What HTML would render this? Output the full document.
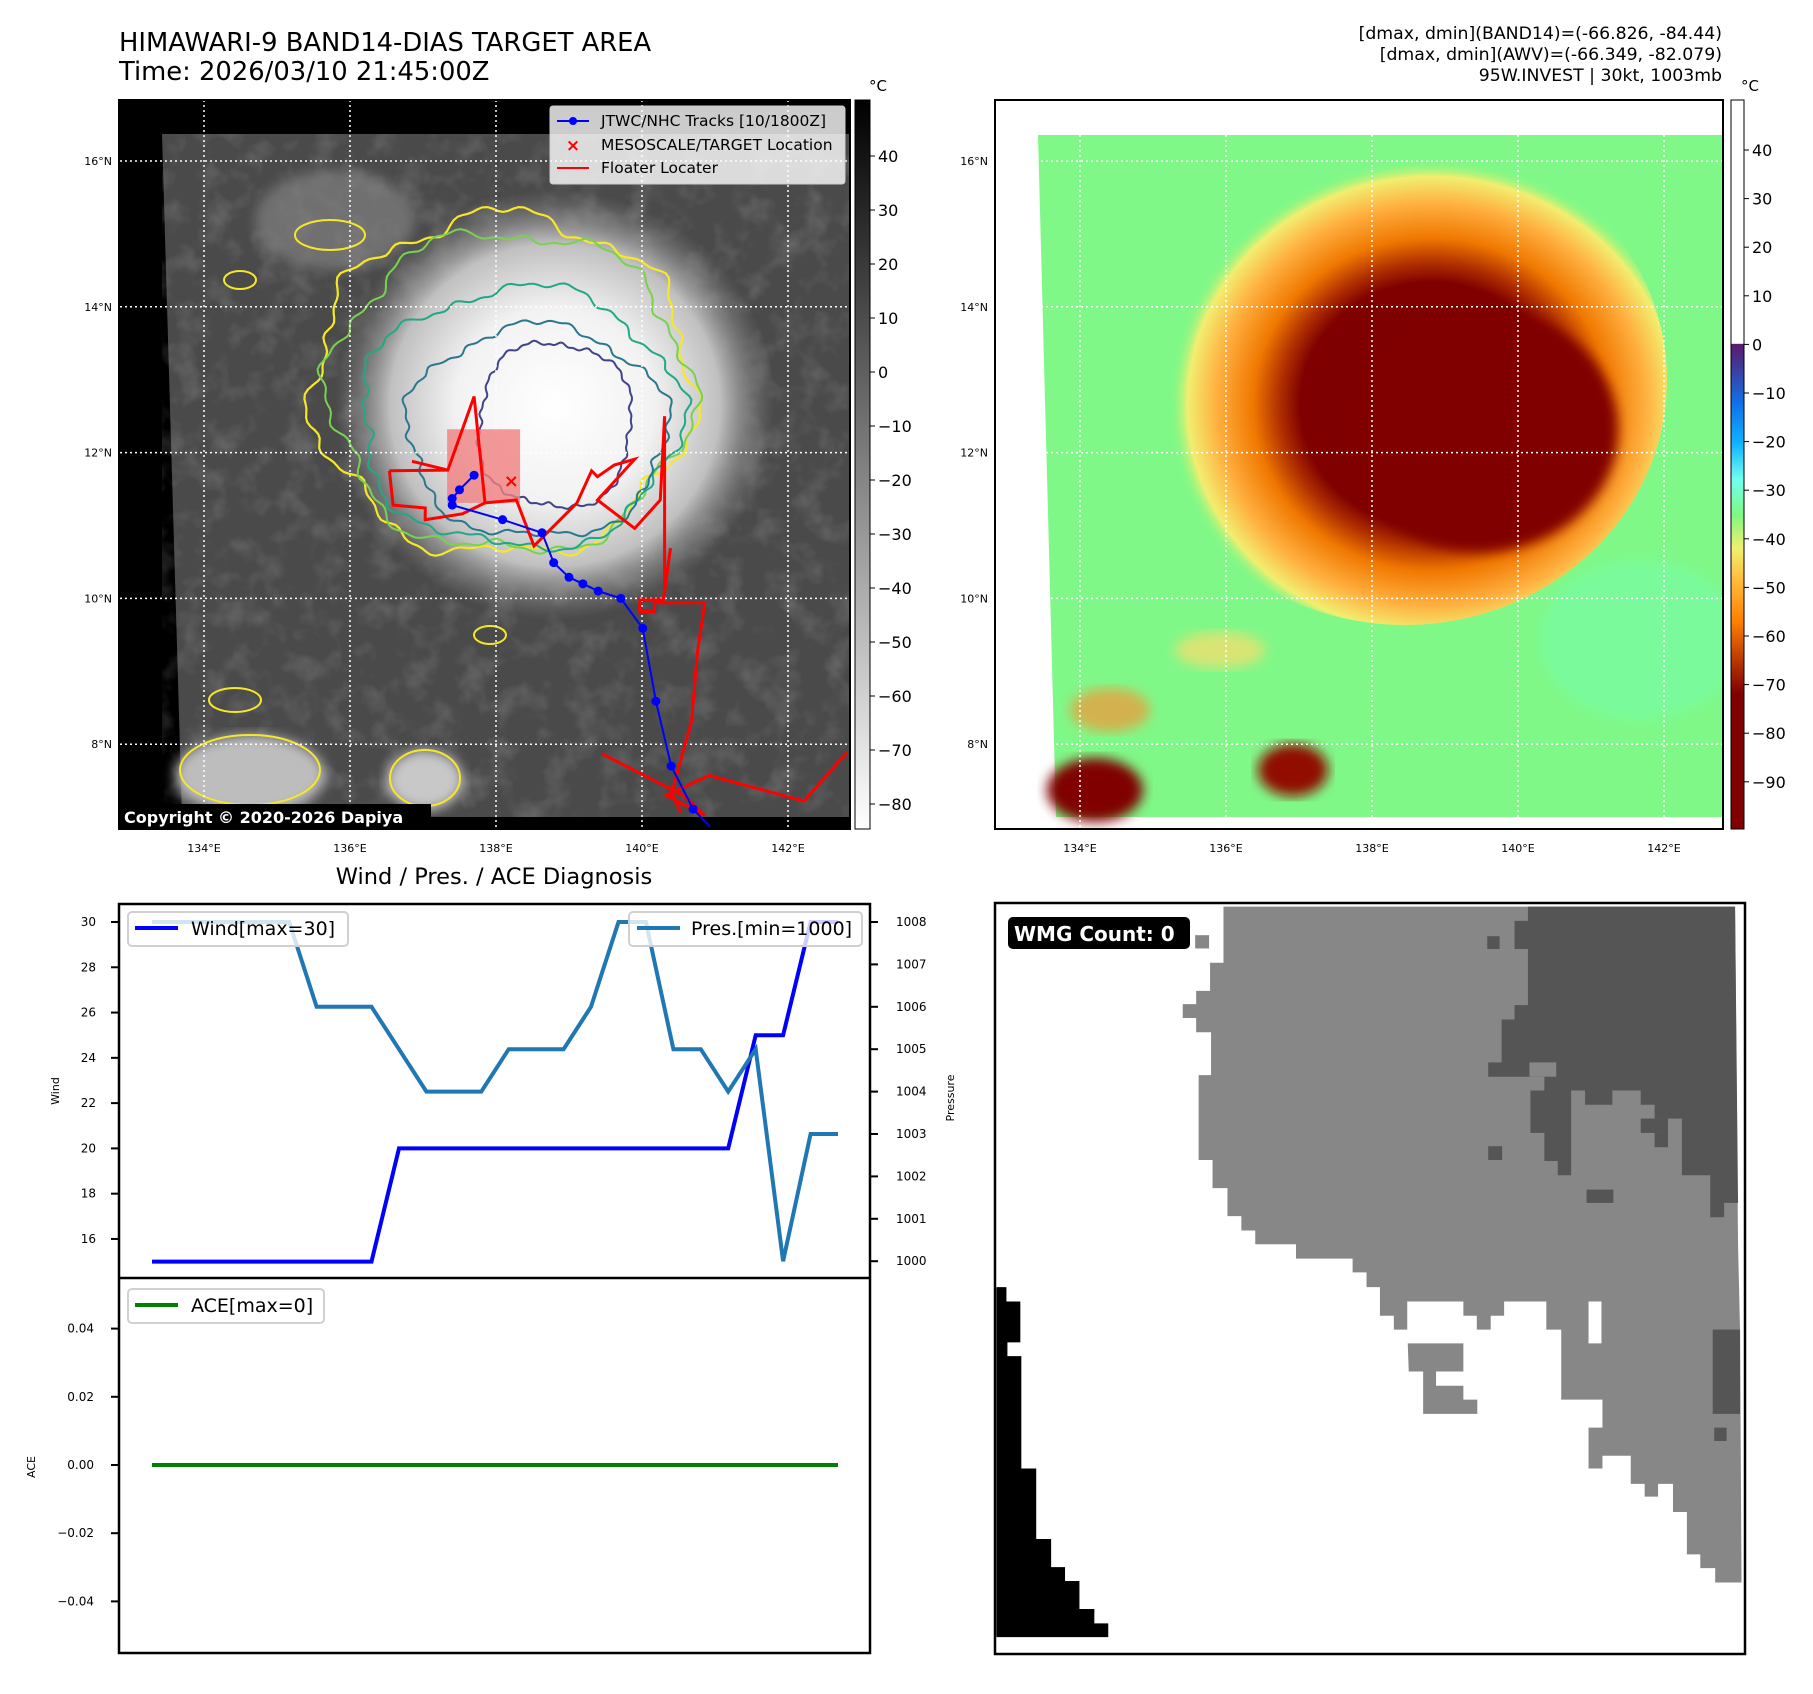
<!DOCTYPE html>
<html><head><meta charset="utf-8">
<style>
html,body{margin:0;padding:0;background:#fff;}
body{width:1813px;height:1690px;overflow:hidden;font-family:"DejaVu Sans","Liberation Sans",sans-serif;}
svg text{font-family:"DejaVu Sans","Liberation Sans",sans-serif;}
</style></head>
<body>
<svg id="fig" width="1813" height="1690" viewBox="0 0 1813 1690" xmlns="http://www.w3.org/2000/svg">
<defs>
  <radialGradient id="cloudG" cx="0.5" cy="0.5" r="0.5">
    <stop offset="0" stop-color="#ffffff"/>
    <stop offset="0.45" stop-color="#f2f2f2"/>
    <stop offset="0.75" stop-color="#c0c0c0"/>
    <stop offset="1" stop-color="#8a8a8a" stop-opacity="0"/>
  </radialGradient>
  <radialGradient id="awvG" cx="0.55" cy="0.55" r="0.5">
    <stop offset="0" stop-color="#7a0000"/>
    <stop offset="0.5" stop-color="#800000"/>
    <stop offset="0.58" stop-color="#b03000"/>
    <stop offset="0.68" stop-color="#f07800"/>
    <stop offset="0.82" stop-color="#ffb040"/>
    <stop offset="0.93" stop-color="#f2ee70"/>
    <stop offset="1" stop-color="#80f880" stop-opacity="0"/>
  </radialGradient>
  <linearGradient id="grayBar" x1="0" y1="0" x2="0" y2="1">
    <stop offset="0" stop-color="#000"/><stop offset="1" stop-color="#fff"/>
  </linearGradient>
  <linearGradient id="awvBar" x1="0" y1="0" x2="0" y2="1">
    <stop offset="0" stop-color="#fff"/>
    <stop offset="0.334" stop-color="#fff"/>
    <stop offset="0.335" stop-color="#5a1a6e"/>
    <stop offset="0.37" stop-color="#3b3fa0"/>
    <stop offset="0.415" stop-color="#1070e8"/>
    <stop offset="0.47" stop-color="#10b0ff"/>
    <stop offset="0.52" stop-color="#70fff0"/>
    <stop offset="0.57" stop-color="#80f880"/>
    <stop offset="0.615" stop-color="#f0f070"/>
    <stop offset="0.655" stop-color="#ffc040"/>
    <stop offset="0.715" stop-color="#ff8000"/>
    <stop offset="0.775" stop-color="#b03000"/>
    <stop offset="0.815" stop-color="#800000"/>
    <stop offset="1" stop-color="#800000"/>
  </linearGradient>
  <filter id="tex" x="0" y="0" width="1" height="1">
    <feTurbulence type="fractalNoise" baseFrequency="0.035" numOctaves="3" seed="4"/>
    <feColorMatrix type="matrix" values="0 0 0 0 0.5  0 0 0 0 0.5  0 0 0 0 0.5  0 0 0 1.1 -0.5"/>
  </filter>
  <filter id="blur6"><feGaussianBlur stdDeviation="6"/></filter>
  <clipPath id="clipL"><rect x="119" y="100" width="731" height="729"/></clipPath>
  <clipPath id="clipR"><rect x="995" y="100" width="728" height="729"/></clipPath>
  <clipPath id="clipW"><rect x="119" y="904" width="751" height="374"/></clipPath>
</defs>

<!-- titles -->
<text x="119" y="51" font-size="25.8">HIMAWARI-9 BAND14-DIAS TARGET AREA</text>
<text x="119" y="80" font-size="25.8">Time: 2026/03/10 21:45:00Z</text>
<text x="1722" y="39" font-size="17.3" text-anchor="end">[dmax, dmin](BAND14)=(-66.826, -84.44)</text>
<text x="1722" y="60" font-size="17.3" text-anchor="end">[dmax, dmin](AWV)=(-66.349, -82.079)</text>
<text x="1722" y="81" font-size="17.3" text-anchor="end">95W.INVEST | 30kt, 1003mb</text>

<!-- left map -->
<g id="mapL">
  <rect x="119" y="100" width="731" height="729" fill="#000"/>
  <g clip-path="url(#clipL)">
    <polygon points="162,134 850,134 850,817 182,817" fill="#4a4a4a"/>
    <rect x="162" y="134" width="688" height="683" filter="url(#tex)" opacity="0.5" clip-path="url(#clipL)"/>
    <ellipse cx="555" cy="405" rx="220" ry="215" fill="url(#cloudG)"/>
    <ellipse cx="250" cy="775" rx="75" ry="40" fill="#bdbdbd" filter="url(#blur6)"/>
    <ellipse cx="425" cy="780" rx="38" ry="30" fill="#c8c8c8" filter="url(#blur6)"/>
    <ellipse cx="335" cy="220" rx="80" ry="50" fill="#8a8a8a" filter="url(#blur6)" opacity="0.6"/>
    <g id="contours"></g>
    <g id="gridL"></g>
    <rect id="pinkRect" fill="#f08080" opacity="0.8"/>
    <g id="floaterL"></g>
    <g id="trackL"></g>
  </g>
  <rect x="119" y="100" width="731" height="729" fill="none" stroke="#000" stroke-width="2"/>
  <g>
    <rect x="550" y="106" width="295" height="78" rx="3" fill="#fff" fill-opacity="0.8" stroke="#ccc"/>
    <line x1="557" y1="121" x2="589" y2="121" stroke="#0000ff" stroke-width="2"/><circle cx="573" cy="121" r="4" fill="#0000ff"/>
    <text x="601" y="126" font-size="15.5">JTWC/NHC Tracks [10/1800Z]</text>
    <text x="573" y="151" font-size="17" fill="#f00" text-anchor="middle" font-weight="bold">×</text>
    <text x="601" y="150" font-size="15.5">MESOSCALE/TARGET Location</text>
    <line x1="557" y1="168" x2="589" y2="168" stroke="#f00" stroke-width="2"/>
    <text x="601" y="173" font-size="15.5">Floater Locater</text>
  </g>
  <rect x="119" y="804" width="312" height="25" fill="#000"/>
  <text x="124" y="823" font-size="16" font-weight="bold" fill="#fff">Copyright © 2020-2026 Dapiya</text>
  <g id="ticksL"></g>
</g>
<!-- left colorbar -->
<g>
  <rect x="855" y="100" width="15" height="729" fill="url(#grayBar)" stroke="#000" stroke-width="1"/>
  <text x="869" y="91" font-size="15">°C</text>
  <g id="cbL"></g>
</g>

<!-- right map -->
<g id="mapR">
  <rect x="995" y="100" width="728" height="729" fill="#fff"/>
  <g clip-path="url(#clipR)">
    <polygon points="1038,135 1723,135 1723,817 1056,817" fill="#80f888"/>
    <ellipse cx="1640" cy="640" rx="100" ry="80" fill="#70ffc0" opacity="0.35" filter="url(#blur6)"/>
    <ellipse cx="1405" cy="380" rx="262" ry="245" fill="url(#awvG)"/>
    <ellipse cx="1480" cy="430" rx="138" ry="122" fill="#800000" filter="url(#blur6)"/>
    <ellipse cx="1095" cy="790" rx="48" ry="32" fill="#800000" filter="url(#blur6)"/>
    <ellipse cx="1293" cy="770" rx="35" ry="26" fill="#900a00" filter="url(#blur6)"/>
    <ellipse cx="1110" cy="710" rx="40" ry="22" fill="#e8a040" filter="url(#blur6)" opacity="0.8"/>
    <ellipse cx="1220" cy="650" rx="45" ry="18" fill="#f0e070" filter="url(#blur6)" opacity="0.8"/>
    <g id="gridR"></g>
  </g>
  <rect x="995" y="100" width="728" height="729" fill="none" stroke="#000" stroke-width="2"/>
  <g id="ticksR"></g>
</g>
<g>
  <rect x="1731" y="100" width="13" height="729" fill="url(#awvBar)" stroke="#000" stroke-width="1"/>
  <text x="1741" y="91" font-size="15">°C</text>
  <g id="cbR"></g>
</g>

<!-- diagnosis chart -->
<text x="494" y="884" font-size="22.5" text-anchor="middle">Wind / Pres. / ACE Diagnosis</text>
<g id="diag">
  <rect x="119" y="904" width="751" height="749" fill="#fff"/>
  <g id="windAxes"></g>
  <g id="aceAxes"></g>
  <rect x="119" y="904" width="751" height="749" fill="none" stroke="#000" stroke-width="2.5"/>
  <line x1="119" y1="1278" x2="870" y2="1278" stroke="#000" stroke-width="2.5"/>
  <text transform="translate(59,1091) rotate(-90)" font-size="11" text-anchor="middle">Wind</text>
  <text transform="translate(954,1098) rotate(-90)" font-size="11" text-anchor="middle">Pressure</text>
  <text transform="translate(35,1467) rotate(-90)" font-size="11" text-anchor="middle">ACE</text>
  <g>
    <rect x="128" y="912" width="220" height="34" rx="4" fill="#fff" fill-opacity="0.8" stroke="#d0d0d0" stroke-width="2"/>
    <line x1="135" y1="928" x2="178" y2="928" stroke="#0000ff" stroke-width="4"/>
    <text x="191" y="935" font-size="19">Wind[max=30]</text>
  </g>
  <g>
    <rect x="629" y="912" width="233" height="34" rx="4" fill="#fff" fill-opacity="0.8" stroke="#d0d0d0" stroke-width="2"/>
    <line x1="637" y1="928" x2="680" y2="928" stroke="#1f77b4" stroke-width="4"/>
    <text x="691" y="935" font-size="19">Pres.[min=1000]</text>
  </g>
  <g>
    <rect x="128" y="1289" width="196" height="34" rx="4" fill="#fff" fill-opacity="0.8" stroke="#d0d0d0" stroke-width="2"/>
    <line x1="135" y1="1305" x2="178" y2="1305" stroke="#008000" stroke-width="4"/>
    <text x="191" y="1312" font-size="19">ACE[max=0]</text>
  </g>
</g>

<!-- WMG panel -->
<g>
  <rect x="995" y="903" width="750" height="751" fill="#fff"/>
  <svg x="995" y="903" width="750" height="751" viewBox="27 45 1510 1470" preserveAspectRatio="none">
    <polygon fill="#878787" points="487,52 1517,52 1523,715 1527,880 1530,1375 1477,1375 1477,1347 1447,1347 1447,1320 1420,1320 1420,1237 1392,1237 1392,1182 1362,1182 1362,1207 1335,1207 1335,1182 1307,1182 1307,1127 1250,1127 1250,1152 1222,1152 1222,1072 1250,1072 1250,1017 1167,1017 1167,880 1137,880 1137,825 1052,825 1052,853 1025,853 1025,880 997,880 997,853 970,853 970,825 857,825 857,880 830,880 830,853 802,853 802,797 775,797 775,768 747,768 747,741 633,741 633,713 551,713 551,686 523,686 523,658 495,658 495,603 465,603 465,548 437,548 437,382 462,382 462,298 432,298 432,270 405,270 405,243 432,243 432,217 460,217 460,162 487,162"/>
    <rect x="1222" y="825" width="26" height="82" fill="#fff"/>
    <polygon fill="#878787" points="858,907 970,907 970,962 915,962 915,990 970,990 970,1017 998,1017 998,1045 889,1045 889,962 860,962"/>
    <rect x="430" y="108" width="28" height="26" fill="#878787"/>
    <polygon fill="#555" points="1100,52 1517,52 1523,632 1495,632 1495,660 1467,660 1467,578 1410,578 1410,523 1410,467 1355,467 1355,440 1327,440 1327,412 1270,412 1270,440 1215,440 1215,412 1187,412 1187,578 1160,578 1160,550 1133,550 1133,495 1105,495 1105,412 1133,412 1133,385 1020,385 1020,357 1047,357 1047,273 1073,273 1073,245 1100,245 1100,135 1073,135 1073,80 1100,80"/>
    <rect x="1103" y="357" width="54" height="28" fill="#878787"/>
    <rect x="1018" y="110" width="25" height="25" fill="#555"/>
    <rect x="1020" y="521" width="28" height="27" fill="#555"/>
    <rect x="1218" y="606" width="54" height="26" fill="#555"/>
    <rect x="1327" y="467" width="55" height="28" fill="#555"/>
    <rect x="1355" y="495" width="27" height="28" fill="#555"/>
    <rect x="1472" y="880" width="55" height="165" fill="#555"/>
    <rect x="1475" y="1072" width="25" height="26" fill="#555"/>
    <polygon fill="#000" points="30,797 50,797 50,825 78,825 78,905 52,905 52,932 80,932 80,1152 110,1152 110,1290 140,1290 140,1345 168,1345 168,1372 197,1372 197,1427 227,1427 227,1455 255,1455 255,1482 30,1482"/>
  </svg>
  <rect x="995" y="903" width="750" height="751" fill="none" stroke="#000" stroke-width="2.5"/>
  <rect x="1008" y="917" width="182" height="32" rx="5" fill="#000"/>
  <text x="1014" y="941" font-size="20" font-weight="bold" fill="#fff">WMG Count: 0</text>
</g>
</svg>

<script>
// ---- diagnosis data ----
const windValues = [15,15,15,15,15,15,15,15,15,20,20,20,20,20,20,20,20,20,20,20,20,20,25,25,30,30];
const presValues = [1008,1008,1008,1008,1008,1008,1006,1006,1006,1005,1004,1004,1004,1005,1005,1005,1006,1008,1008,1005,1005,1004,1005,1000,1003,1003];
const aceValues = [0,0,0,0,0,0,0,0,0,0,0,0,0,0,0,0,0,0,0,0,0,0,0,0,0,0];
const windTicks = [16,18,20,22,24,26,28,30];
const presTicks = [1000,1001,1002,1003,1004,1005,1006,1007,1008];
const aceTicks = [-0.04,-0.02,0.00,0.02,0.04];
const aceTickLabels = ["\u22120.04","\u22120.02","0.00","0.02","0.04"];
// ---- map data ----
const trackLon = [137.70,137.50,137.40,137.40,138.09,138.63,138.79,139.00,139.19,139.40,139.71,140.01,140.19,140.40,140.70,140.93];
const trackLat = [11.69,11.49,11.37,11.28,11.08,10.90,10.49,10.29,10.20,10.10,10.00,9.59,8.59,7.70,7.11,6.87];
const floaterLon = [136.54,137.34,137.70,137.85,138.28,138.52,139.11,139.31,139.39,139.62,139.90,139.39,139.90,140.25,140.31,140.31,140.39,140.29,139.97,139.97,140.17,140.17,140.86,140.76,140.68,140.41,140.53];
const floaterLat = [11.75,11.76,12.77,11.31,11.35,10.72,11.31,11.75,11.67,11.83,11.91,11.35,10.96,11.35,12.50,10.09,10.69,9.98,9.98,9.82,9.82,9.94,9.94,9.27,8.32,7.34,7.06];
const floater2Lon = [136.85,137.34];
const floater2Lat = [11.88,11.76];
const floater3Lon = [136.54,136.59,137.03,137.03,137.54,137.85];
const floater3Lat = [11.75,11.28,11.24,11.08,11.16,11.31];
const floater4Lon = [139.45,140.56,140.86,140.33,140.92,142.22,142.81];
const floater4Lat = [7.87,7.30,7.02,7.30,7.57,7.22,7.89];
const targetLon = 138.21, targetLat = 11.61;
const boxLon = [137.33,138.33], boxLat = [12.32,11.31];
const lonTicks = [134,136,138,140,142];
const latTicks = [16,14,12,10,8];
const band14Ticks = [40,30,20,10,0,-10,-20,-30,-40,-50,-60,-70,-80];
const awvTicks = [40,30,20,10,0,-10,-20,-30,-40,-50,-60,-70,-80,-90];

const NS='http://www.w3.org/2000/svg';
function mk(tag, attrs, parent, txt){const e=document.createElementNS(NS,tag);for(const k in attrs)e.setAttribute(k,attrs[k]);if(txt!==undefined)e.textContent=txt;parent.appendChild(e);return e;}
const fmtNeg = v => (v<0?'\u2212':'')+Math.abs(v);

const lonX = (lon, off) => 204 + (lon-134)*73 + (off||0);
const latY = lat => 161 + (16-lat)*72.9;

function drawGrid(gid, tid, off){
  const g=document.getElementById(gid), t=document.getElementById(tid);
  lonTicks.forEach(lon=>{
    const x=lonX(lon,off);
    const l=mk('line',{x1:x,y1:100,x2:x,y2:829,stroke:'#fff','stroke-width':1.5,'stroke-dasharray':'2,3'},g);
    
    
    const tx=mk('text',{x:x,y:852,'font-size':11,'text-anchor':'middle'},t,lon+'°E');
    
    
  });
  latTicks.forEach(lat=>{
    const y=latY(lat);
    const l=mk('line',{x1:100+off,y1:y,x2:850+off,y2:y,stroke:'#fff','stroke-width':1.5,'stroke-dasharray':'2,3'},g);
    
    
    const tx=mk('text',{x:112+off,y:y+4,'font-size':11,'text-anchor':'end'},t,lat+'°N');
    
    
  });
}
drawGrid('gridL','ticksL',0);
drawGrid('gridR','ticksR',876);

(function(){
  const g=document.getElementById('contours');
  const rings=[[503,385,190,170,'#f5e72a',2.2,7],[510,392,180,160,'#7ad151',2,6],[520,418,160,130,'#22a884',2,5],[537,432,130,106,'#2a788e',2,5],[555,425,78,84,'#414487',2,4]];
  rings.forEach((r,ri)=>{
    let d='';
    for(let i=0;i<=240;i++){
      const a=i/240*Math.PI*2;
      const w=1+0.05*Math.sin(a*r[6]+ri)+0.02*Math.sin(a*17+ri*2)+0.012*Math.sin(a*37);
      const x=r[0]+r[2]*w*Math.cos(a), y=r[1]+r[3]*w*Math.sin(a);
      d+=(i?'L':'M')+x.toFixed(1)+','+y.toFixed(1);
    }
    const p=mk('path',{d:d,fill:'none',stroke:r[4],'stroke-width':r[5]},g);
    
    
  });
  [[330,235,35,15],[235,700,26,12],[250,770,70,35],[425,778,35,28],[240,280,16,9],[490,635,16,9]].forEach(b=>{
    const e=mk('ellipse',{cx:b[0],cy:b[1],rx:b[2],ry:b[3],fill:'none',stroke:'#f5e72a','stroke-width':2},g);
    
    
  });
})();

(function(){
  const r=document.getElementById('pinkRect');
  r.setAttribute('x',lonX(boxLon[0]));r.setAttribute('y',latY(boxLat[0]));
  r.setAttribute('width',lonX(boxLon[1])-lonX(boxLon[0]));r.setAttribute('height',latY(boxLat[1])-latY(boxLat[0]));
  const fg=document.getElementById('floaterL');
  [[floaterLon,floaterLat],[floater2Lon,floater2Lat],[floater3Lon,floater3Lat],[floater4Lon,floater4Lat]].forEach(s=>{
    const pts=s[0].map((lon,i)=>lonX(lon).toFixed(1)+','+latY(s[1][i]).toFixed(1)).join(' ');
    const pl=mk('polyline',{points:pts,fill:'none',stroke:'#ff0000','stroke-width':3,'stroke-linejoin':'miter'},fg);
    
    
  });
  const tx=mk('text',{x:lonX(targetLon),y:latY(targetLat)+6,'font-size':18,'font-weight':'bold',fill:'#ff0000','text-anchor':'middle'},fg,'×');
  
  
  const tg=document.getElementById('trackL');
  const pts=trackLon.map((lon,i)=>lonX(lon).toFixed(1)+','+latY(trackLat[i]).toFixed(1)).join(' ');
  const pl=mk('polyline',{points:pts,fill:'none',stroke:'#0000ff','stroke-width':2},tg);
  
  
  trackLon.slice(0,-1).forEach((lon,i)=>{
    const c=mk('circle',{cx:lonX(lon),cy:latY(trackLat[i]),r:4.5,fill:'#0000ff'},tg);
    
    
  });
})();

(function(){
  const gl=document.getElementById('cbL');
  band14Ticks.forEach(v=>{
    const y=156+(40-v)*5.4;
    mk('line',{x1:870,y1:y,x2:875,y2:y,stroke:'#000'},gl);
    const t=mk('text',{x:878,y:y+6,'font-size':16},gl,fmtNeg(v));
    
    
  });
  const gr=document.getElementById('cbR');
  awvTicks.forEach(v=>{
    const y=150+(40-v)*4.86;
    mk('line',{x1:1744,y1:y,x2:1749,y2:y,stroke:'#000'},gr);
    const t=mk('text',{x:1752,y:y+6,'font-size':16},gr,fmtNeg(v));
    
    
  });
})();

(function(){
  const n=windValues.length;
  const xS = i => 152 + i*(838-152)/(n-1);
  const yW = v => 922 + (30-v)*22.64;
  const yP = p => 922 + (1008-p)*42.4;
  const yA = a => 1465 - a*3410;
  const wg=document.getElementById('windAxes'), ag=document.getElementById('aceAxes');
  windTicks.forEach(v=>{
    const y=yW(v);
    mk('line',{x1:111,y1:y,x2:119,y2:y,stroke:'#000','stroke-width':2},wg);
    const t=mk('text',{x:96,y:y+4,'font-size':12,'text-anchor':'end'},wg,String(v));
    
    
  });
  presTicks.forEach(p=>{
    const y=yP(p);
    mk('line',{x1:870,y1:y,x2:878,y2:y,stroke:'#000','stroke-width':2},wg);
    const t=mk('text',{x:896,y:y+4,'font-size':12},wg,String(p));
    
    
  });
  aceTicks.forEach((a,i)=>{
    const y=yA(a);
    mk('line',{x1:111,y1:y,x2:119,y2:y,stroke:'#000','stroke-width':2},ag);
    const t=mk('text',{x:94,y:y+4,'font-size':12,'text-anchor':'end'},ag,aceTickLabels[i]);
    
    
  });
  const cw=mk('g',{'clip-path':'url(#clipW)'},wg);
  const wl=mk('polyline',{points:windValues.map((v,i)=>xS(i).toFixed(1)+','+yW(v).toFixed(1)).join(' '),fill:'none',stroke:'#0000ff','stroke-width':4},cw);
  
  
  const pl=mk('polyline',{points:presValues.map((v,i)=>xS(i).toFixed(1)+','+yP(v).toFixed(1)).join(' '),fill:'none',stroke:'#1f77b4','stroke-width':4},cw);
  
  
  const al=mk('polyline',{points:aceValues.map((v,i)=>xS(i).toFixed(1)+','+yA(v).toFixed(1)).join(' '),fill:'none',stroke:'#008000','stroke-width':4},ag);
  
  
})();
</script>
</body></html>
